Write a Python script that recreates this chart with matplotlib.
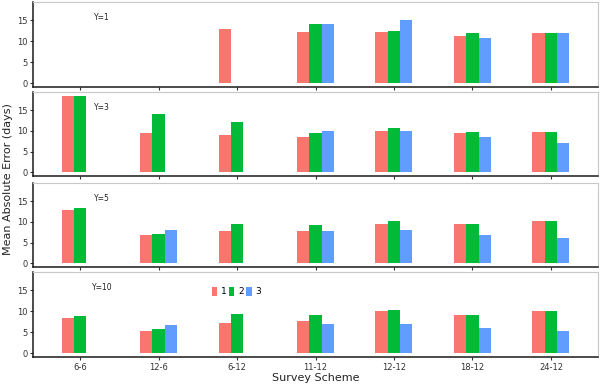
import numpy as np
import matplotlib.pyplot as plt

# Data
schemes = ["6-6", "12-6", "6-12", "11-12", "12-12", "18-12", "24-12"]
panels = ["Y=1", "Y=3", "Y=5", "Y=10"]
groups = ["1", "2", "3"]
nan = np.nan

# values[panel][group] -> one value per scheme (nan = no bar)
y1_g1 = [nan, nan, 12.9, 12.3, 12.3, 11.4, 11.9]
y1_g2 = [nan, nan, nan, 14.1, 12.5, 11.9, 12.0]
y1_g3 = [nan, nan, nan, 14.1, 15.0, 10.8, 12.0]

y3_g1 = [18.5, 9.6, 8.9, 8.5, 10.0, 9.4, 9.8]
y3_g2 = [18.5, 14.2, 12.1, 9.6, 10.8, 9.7, 9.8]
y3_g3 = [nan, nan, nan, 9.9, 10.0, 8.5, 7.1]

y5_g1 = [12.8, 6.9, 7.8, 7.8, 9.6, 9.4, 10.1]
y5_g2 = [13.3, 7.1, 9.6, 9.2, 10.1, 9.6, 10.1]
y5_g3 = [nan, 8.1, nan, 7.8, 8.1, 6.9, 6.2]

y10_g1 = [8.5, 5.2, 7.3, 7.7, 10.1, 9.1, 10.1]
y10_g2 = [8.9, 5.7, 9.4, 9.1, 10.3, 9.1, 10.1]
y10_g3 = [nan, 6.8, nan, 6.9, 6.9, 6.0, 5.2]

data = [
    [y1_g1, y1_g2, y1_g3],
    [y3_g1, y3_g2, y3_g3],
    [y5_g1, y5_g2, y5_g3],
    [y10_g1, y10_g2, y10_g3],
]

colors = ["#F8766D", "#00BA38", "#619CFF"]

fig = plt.figure(figsize=(6, 3.88), dpi=100)

left, right = 33 / 600, 598 / 600
tops = [2, 92, 183, 272]
bottoms = [87, 176, 267, 357]
H = 388

w = 0.157
x = np.arange(1, len(schemes) + 1)
ymax = 18.5
pad = ymax * 0.05

for p in range(4):
    y0 = 1 - bottoms[p] / H
    h = (bottoms[p] - tops[p]) / H
    ax = fig.add_axes([left, y0, right - left, h])
    for g in range(3):
        vals = np.array(data[p][g], dtype=float)
        ok = ~np.isnan(vals)
        ax.bar(x[ok] + (g - 1) * w, vals[ok], width=w, color=colors[g],
               label=groups[g], linewidth=0)
    ax.set_xlim(0.4, len(schemes) + 0.6)
    ax.set_ylim(-pad, ymax + pad)
    ax.set_yticks([0, 5, 10, 15])
    ax.set_xticks(x)
    ax.text(1.28, 15.7, panels[p], fontsize=5.5, ha="center", va="center",
            color="#222222")
    for s in ["top", "right"]:
        ax.spines[s].set_color("#c8c8c8")
        ax.spines[s].set_linewidth(0.8)
    for s in ["left", "bottom"]:
        ax.spines[s].set_color("#1a1a1a")
        ax.spines[s].set_linewidth(1.1)
    ax.tick_params(axis="both", length=2.5, width=0.8, color="#333333",
                   labelsize=6, pad=1.5, labelcolor="#333333")
    if p < 3:
        ax.set_xticklabels([])
    else:
        ax.set_xticklabels(schemes)
        ax.set_xlabel("Survey Scheme", fontsize=8, labelpad=1, color="#222222")
        ax.legend(loc="center", bbox_to_anchor=(0.36, 0.77), ncol=3,
                  frameon=False, fontsize=6.5, handlelength=0.6,
                  handleheight=1.2, handletextpad=0.4, columnspacing=0.3,
                  borderpad=0)

fig.text(0.013, (1 - 357 / H + 1 - 2 / H) / 2, "Mean Absolute Error (days)",
         rotation=90, fontsize=8, ha="center", va="center", color="#222222")

fig.savefig("out.png", dpi=100)
